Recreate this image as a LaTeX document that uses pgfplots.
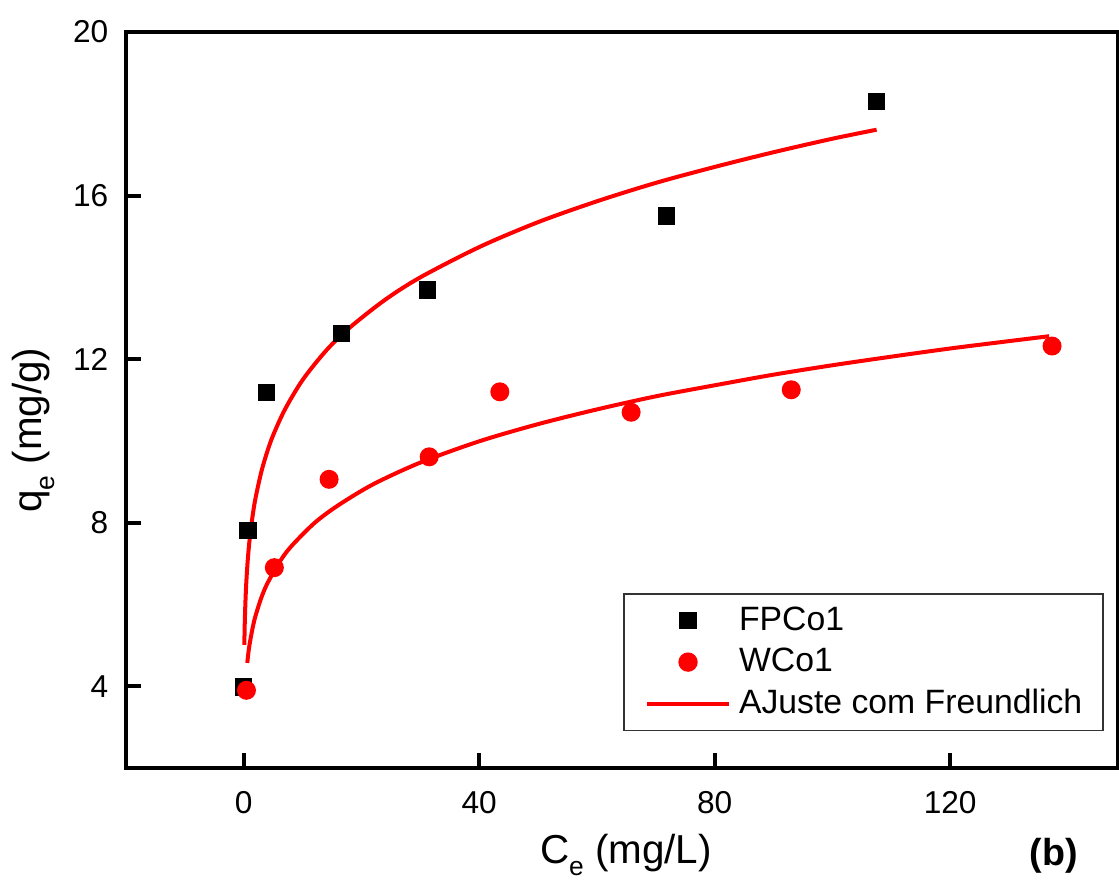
\documentclass[border=0pt]{standalone}
\usepackage{pgfplots}
\pgfplotsset{compat=1.18}
\usepackage{fontspec}
\setmainfont{Liberation Sans}
\begin{document}
\begin{tikzpicture}
\begin{axis}[
  scale only axis,
  clip mode=individual,
  width=99.2mm, height=73.6mm,
  xmin=-20, xmax=148.5, ymin=2, ymax=20,
  xtick={0,40,80,120}, ytick={4,8,12,16,20},
  tick pos=left, tick align=inside,
  major tick length=4.3pt,
  axis line style={line width=1.14pt},
  every tick/.style={line width=1.14pt, black},
  /pgf/number format/assume math mode=true,
  tick label style={font=\fontsize{9}{10}\selectfont},
  xticklabel style={yshift=-3pt},
  yticklabel style={xshift=-1.5pt},
  xlabel={C\raisebox{-3.5pt}{\fontsize{7.5}{8}\selectfont e} (mg/L)},
  xlabel style={font=\fontsize{11.5}{13}\selectfont, at={(axis description cs:0.504,-0.130)}, anchor=base},
  ylabel={q\raisebox{-3.5pt}{\fontsize{7.5}{8}\selectfont e} (mg/g)},
  ylabel style={font=\fontsize{11.5}{13}\selectfont, at={(axis description cs:-0.0847,0.459)}, anchor=base, rotate=0},
  legend style={at={(axis description cs:0.986,0.238)}, anchor=north east, draw=black!80, line width=0.5pt,
    font=\fontsize{9.6}{11}\selectfont, inner xsep=2.1mm, inner ysep=1.2mm, row sep=3.3pt, column sep=0.8mm,
    nodes={inner sep=0pt, text height=7pt, text depth=1.5pt}},
  legend cell align=left,
  legend image code/.code={\draw[mark repeat=2,mark phase=2,#1] plot coordinates {(0mm,0mm)(4.1mm,0mm)(8.2mm,0mm)};},
]
% Freundlich fit curves
\addplot[red, line width=1.14pt, line join=round, smooth, forget plot] coordinates {
(0.1,5.01)(0.15,5.39)(0.2,5.68)(0.3,6.11)(0.4,6.44)(0.5,6.70)(0.7,7.12)(1,7.59)(1.5,8.16)(2,8.60)(3,9.25)(4,9.74)(5,10.14)(7,10.77)(10,11.49)(14,12.21)(18,12.77)(24,13.45)(30,14.00)(40,14.74)(50,15.35)(60,15.86)(70,16.31)(80,16.70)(90,17.06)(100,17.39)(107.5,17.61)
};
\addplot[red, line width=1.14pt, line join=round, smooth, forget plot] coordinates {
(0.6,4.57)(0.8,4.83)(1,5.03)(1.5,5.42)(2,5.72)(3,6.17)(4,6.51)(6,7.02)(8,7.41)(12,7.99)(16,8.42)(22,8.94)(30,9.47)(40,9.99)(50,10.41)(60,10.77)(70,11.09)(80,11.36)(90,11.62)(100,11.85)(110,12.06)(120,12.26)(130,12.44)(136.8,12.56)
};
\addplot[only marks, mark=square*, mark size=2.23pt, black] coordinates {
(0,3.98)(0.73,7.80)(3.86,11.18)(16.6,12.62)(31.2,13.69)(71.8,15.50)(107.5,18.31)
};
\addlegendentry{FPCo1}
\addplot[only marks, mark=*, mark size=2.5pt, red] coordinates {
(0.46,3.90)(5.2,6.90)(14.5,9.06)(31.5,9.61)(43.5,11.20)(65.8,10.70)(93.0,11.25)(137.3,12.32)
};
\addlegendentry{WCo1}
\addlegendimage{red, line width=1.14pt}
\addlegendentry{AJuste com Freundlich}
\node[font=\bfseries\fontsize{10.7}{12}\selectfont, anchor=base] at (axis description cs:0.935,-0.133) {(b)};
\end{axis}
\pgfresetboundingbox
\path (current axis.south west) ++(-12.6mm,-11.2mm) rectangle ++(111.9mm,88mm);
\end{tikzpicture}
\end{document}
